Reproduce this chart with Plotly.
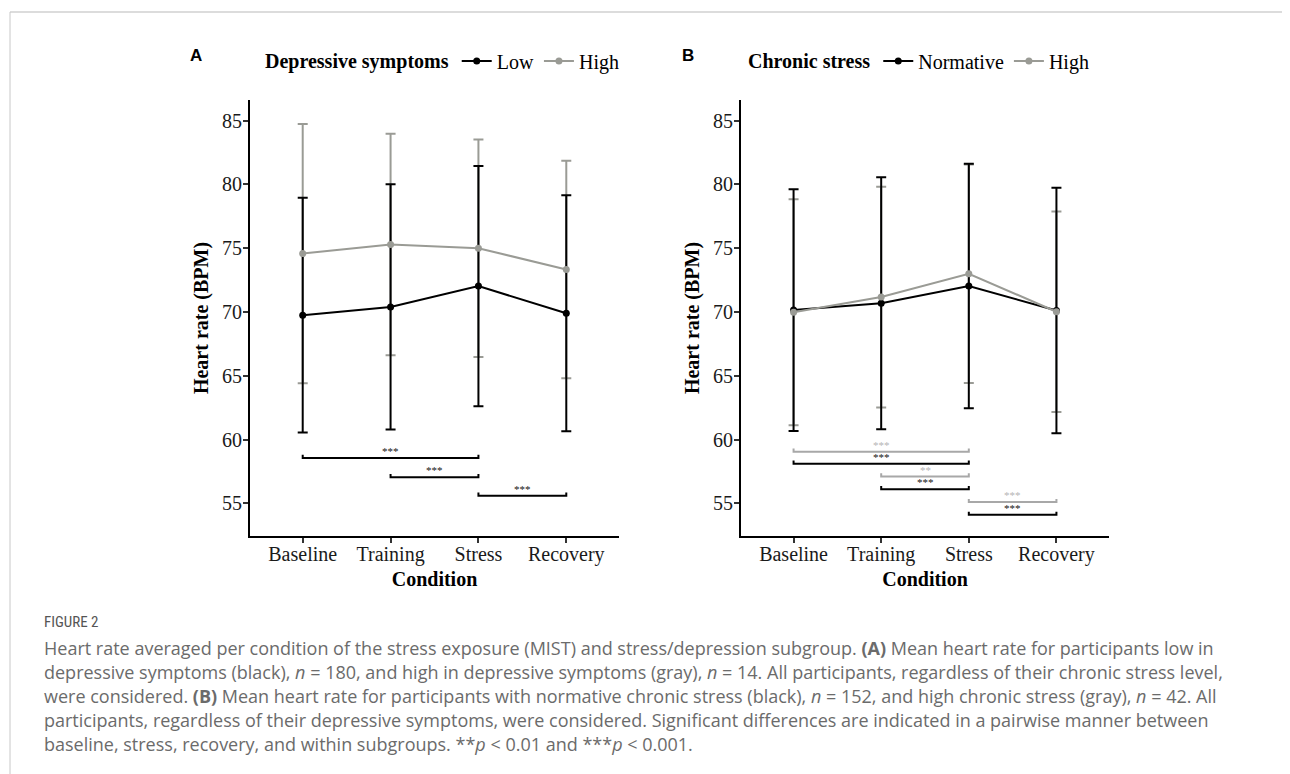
import plotly.graph_objects as go

conditions = ["Baseline", "Training", "Stress", "Recovery"]

# Panel A: depressive symptoms
dep_low_mean = [69.75, 70.40, 72.03, 69.90]
dep_low_sd = [9.20, 9.62, 9.42, 9.25]
dep_high_mean = [74.58, 75.29, 75.00, 73.33]
dep_high_sd = [10.16, 8.68, 8.53, 8.52]

# Panel B: chronic stress
cs_norm_mean = [70.15, 70.68, 72.04, 70.12]
cs_norm_sd = [9.47, 9.88, 9.58, 9.62]
cs_high_mean = [69.98, 71.17, 73.00, 70.02]
cs_high_sd = [8.85, 8.65, 8.57, 7.85]

# significance brackets: (start index, end index, y level, label, group)
brackets_a = [(0, 2, 58.55, "***", "low"), (1, 2, 57.05, "***", "low"), (2, 3, 55.6, "***", "low")]
brackets_b = [(0, 2, 59.05, "***", "high"), (0, 2, 58.1, "***", "low"),
              (1, 2, 57.1, "**", "high"), (1, 2, 56.1, "***", "low"),
              (2, 3, 55.1, "***", "high"), (2, 3, 54.1, "***", "low")]

y_ticks = [55, 60, 65, 70, 75, 80, 85]

BLACK = "#000000"
GRAY = "#9A9B95"
BR_GRAY = "#A8A8A8"
SERIF = "Liberation Serif, Times New Roman, serif"

# page body has an 8px margin: figure is placed at (8, 8)
OFF = 8
W = 1290.0 - OFF
H = 774.0 - OFF


def px(xp):
    return (xp - OFF) / W


def py(yp):
    return 1 - (yp - OFF) / H


fig = go.Figure()
xi = list(range(len(conditions)))


def add_errbars(mean, sd, color, xa, ya):
    fig.add_trace(go.Scatter(
        x=xi, y=mean, mode="markers", marker=dict(color=color, size=1, opacity=0),
        error_y=dict(type="data", array=sd, color=color, thickness=2, width=5),
        xaxis=xa, yaxis=ya, showlegend=False, hoverinfo="skip"))


def add_series(mean, color, name, xa, ya, legend):
    fig.add_trace(go.Scatter(
        x=xi, y=mean, mode="lines+markers", name=name,
        line=dict(color=color, width=2),
        marker=dict(color=color, size=7),
        xaxis=xa, yaxis=ya, legend=legend, hoverinfo="skip"))


add_errbars(dep_high_mean, dep_high_sd, GRAY, "x", "y")
add_errbars(dep_low_mean, dep_low_sd, BLACK, "x", "y")
add_errbars(cs_high_mean, cs_high_sd, GRAY, "x2", "y2")
add_errbars(cs_norm_mean, cs_norm_sd, BLACK, "x2", "y2")

add_series(dep_low_mean, BLACK, "Low", "x", "y", "legend")
add_series(dep_high_mean, GRAY, "High", "x", "y", "legend")
add_series(cs_norm_mean, BLACK, "Normative", "x2", "y2", "legend2")
add_series(cs_high_mean, GRAY, "High", "x2", "y2", "legend2")

annotations = []


def add_brackets(brs, xa, ya):
    for (i0, i1, yl, lab, grp) in brs:
        col = BLACK if grp == "low" else BR_GRAY
        tcol = "#111111" if grp == "low" else "#B5B5B5"
        fig.add_trace(go.Scatter(
            x=[i0, i0, i1, i1], y=[yl + 0.25, yl, yl, yl + 0.25], mode="lines",
            line=dict(color=col, width=2), xaxis=xa, yaxis=ya,
            showlegend=False, hoverinfo="skip"))
        annotations.append(dict(
            x=(i0 + i1) / 2, y=yl, xref=xa, yref=ya, text=lab, showarrow=False,
            yanchor="bottom", yshift=-1, font=dict(family=SERIF, size=11, color=tcol)))


add_brackets(brackets_a, "x", "y")
add_brackets(brackets_b, "x2", "y2")

ydom = [py(536), py(100)]

axis_common = dict(
    showgrid=False, zeroline=False, showline=True, linecolor="black", linewidth=2,
    ticks="outside", ticklen=5, tickwidth=1.5, tickcolor="#333333",
    tickfont=dict(family=SERIF, size=20, color="#1a1a1a"))

xaxis_common = dict(axis_common, tickmode="array", tickvals=xi, ticktext=conditions,
                    range=[-0.6, 3.6], ticklabelstandoff=-6,
                    title=dict(text="<b>Condition</b>", font=dict(family=SERIF, size=20, color="black"), standoff=7))
yaxis_common = dict(axis_common, tickmode="array", tickvals=y_ticks, range=[52.44, 86.62],
                    ticklabelstandoff=-3,
                    title=dict(text="<b>Heart rate (BPM)</b>", font=dict(family=SERIF, size=20, color="black"), standoff=8))

fig.update_layout(
    xaxis=dict(xaxis_common, domain=[px(250), px(619)], anchor="y"),
    yaxis=dict(yaxis_common, domain=ydom, anchor="x"),
    xaxis2=dict(xaxis_common, domain=[px(741), px(1109)], anchor="y2"),
    yaxis2=dict(yaxis_common, domain=ydom, anchor="x2"),
)

legend_common = dict(orientation="h", xanchor="left", yanchor="middle",
                     bgcolor="rgba(0,0,0,0)", itemwidth=30, itemclick=False,
                     font=dict(family=SERIF, size=20, color="black"))
fig.update_layout(
    legend=dict(legend_common, x=px(263), y=py(61),
                title=dict(text="<b>Depressive symptoms</b>", font=dict(family=SERIF, size=20, color="black"))),
    legend2=dict(legend_common, x=px(746), y=py(61),
                 title=dict(text="<b>Chronic stress</b>", font=dict(family=SERIF, size=20, color="black"))),
)

# panel letters
for letter, xl in (("A", 196), ("B", 688)):
    annotations.append(dict(x=px(xl), y=py(55), xref="paper", yref="paper", text="<b>%s</b>" % letter,
                            showarrow=False, xanchor="center", yanchor="middle",
                            font=dict(family="Liberation Sans, Arial", size=17, color="black")))

# caption
caption_lines = [
    "Heart rate averaged per condition of the stress exposure (MIST) and stress/depression subgroup. <b>(A)</b> Mean heart rate for participants low in",
    "depressive symptoms (black), <i>n</i> = 180, and high in depressive symptoms (gray), <i>n</i> = 14. All participants, regardless of their chronic stress level,",
    "were considered. <b>(B)</b> Mean heart rate for participants with normative chronic stress (black), <i>n</i> = 152, and high chronic stress (gray), <i>n</i> = 42. All",
    "participants, regardless of their depressive symptoms, were considered. Significant differences are indicated in a pairwise manner between",
    "baseline, stress, recovery, and within subgroups. **<i>p</i> &lt; 0.01 and ***<i>p</i> &lt; 0.001.",
]
annotations.append(dict(x=px(42), y=py(622), xref="paper", yref="paper", text="FIGURE 2",
                        showarrow=False, xanchor="left", yanchor="middle",
                        font=dict(family="Roboto Condensed, Roboto, Liberation Sans Narrow, sans-serif", size=15, color="#555555")))
for k, line in enumerate(caption_lines):
    annotations.append(dict(x=px(42), y=py(648 + 24 * k), xref="paper", yref="paper", text=line,
                            showarrow=False, xanchor="left", yanchor="middle",
                            font=dict(family="Open Sans, sans-serif", size=18, color="#6b6b6b")))

fig.update_layout(
    annotations=annotations,
    shapes=[
        dict(type="line", xref="paper", yref="paper", x0=px(10), x1=1, y0=py(12), y1=py(12),
             line=dict(color="#d0d0d0", width=1.5)),
        dict(type="line", xref="paper", yref="paper", x0=px(10), x1=px(10), y0=0, y1=py(12),
             line=dict(color="#c8c8c8", width=1)),
    ],
    width=int(W), height=int(H), margin=dict(l=0, r=0, t=0, b=0),
    paper_bgcolor="white", plot_bgcolor="white", showlegend=True,
)

fig.write_html("out.html", config={"displayModeBar": False})
